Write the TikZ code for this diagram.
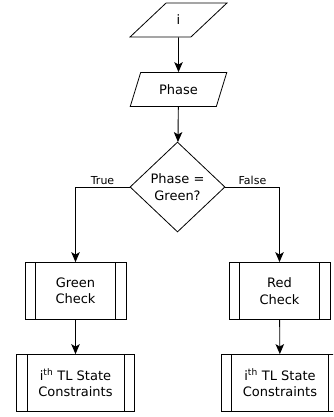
\documentclass[tikz,border=0pt]{standalone}
\usepackage{fontspec}
\setmainfont{DejaVu Sans}
\usetikzlibrary{shapes.geometric,arrows.meta}
\tikzset{
  base/.style={draw=black, line width=0.8pt, font=\fontsize{13}{16.5}\selectfont, align=center, inner sep=0pt},
  io/.style={base, trapezium, trapezium left angle=62, trapezium right angle=118, trapezium stretches=true, minimum width=97pt, minimum height=34pt},
  decision/.style={base, diamond, minimum width=95pt, minimum height=90pt},
  proc/.style={base, rectangle, minimum width=#1, minimum height=57pt,
    path picture={
      \draw[line width=0.8pt] ([xshift=10.5pt]path picture bounding box.north west) -- ([xshift=10.5pt]path picture bounding box.south west);
      \draw[line width=0.8pt] ([xshift=-10.5pt]path picture bounding box.north east) -- ([xshift=-10.5pt]path picture bounding box.south east);
    }},
  conn/.style={line width=0.9pt, -{Stealth[length=10pt,width=8.5pt,inset=2.5pt]}},
  lbl/.style={font=\fontsize{11}{13}\selectfont, inner sep=2pt}
}
\begin{document}
\begin{tikzpicture}[x=1pt,y=-1pt]
\useasboundingbox (0,0) rectangle (333,417);
\clip (0,0) rectangle (333,417);
\node[io] (i) at (178.5,20) {i};
\node[io] (phase) at (178.5,89.5) {Phase};
\node[decision] (dec) at (177.5,187) {Phase =\\Green?};
\node[proc=101pt] (green) at (75.5,291) {Green\\Check};
\node[proc=101pt] (red) at (279.5,291) {Red\\Check};
\node[proc=118pt] (cl) at (75.5,383) {i\textsuperscript{th} TL State\\Constraints};
\node[proc=118pt] (cr) at (280,383) {i\textsuperscript{th} TL State\\Constraints};
\draw[conn] (i) -- (phase);
\draw[conn] (phase) -- (dec);
\draw[conn] (dec.west) -| (green.north) node[lbl, pos=0.25, above] {True};
\draw[conn] (dec.east) -| (red.north) node[lbl, pos=0.25, above] {False};
\draw[conn] (green) -- (cl);
\draw[conn] (red) -- (cr);
\end{tikzpicture}
\end{document}
